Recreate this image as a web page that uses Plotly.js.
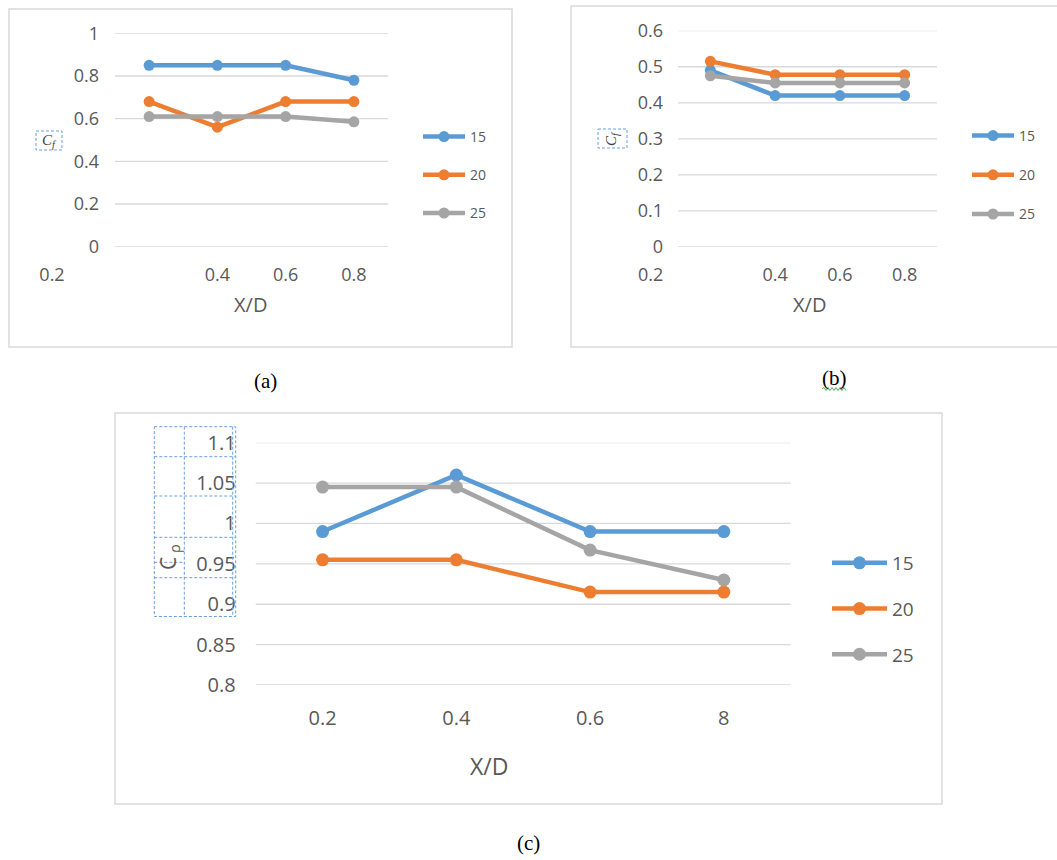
<!DOCTYPE html>
<html>
<head>
<meta charset="utf-8">
<script src="https://cdn.plot.ly/plotly-3.0.1.min.js"></script>
<style>html,body{margin:0;padding:0;background:#fff;}#chart{width:1057px;height:860px;}</style>
</head>
<body>
<div id="chart"></div>
<script>
// ---------------- DATA ----------------
const xLabelsAB = ["0.2", "0.4", "0.6", "0.8"];
const xLabelsC  = ["0.2", "0.4", "0.6", "8"];
const seriesNames = ["15", "20", "25"];

const a15 = [0.85, 0.85, 0.85, 0.78];
const a20 = [0.68, 0.56, 0.68, 0.68];
const a25 = [0.61, 0.61, 0.61, 0.585];

const b15 = [0.49, 0.42, 0.42, 0.42];
const b20 = [0.515, 0.478, 0.478, 0.478];
const b25 = [0.475, 0.455, 0.455, 0.455];

const c15 = [0.99, 1.06, 0.99, 0.99];
const c20 = [0.955, 0.955, 0.915, 0.915];
const c25 = [1.045, 1.045, 0.967, 0.93];

const yTicksA = [0, 0.2, 0.4, 0.6, 0.8, 1];
const yTicksB = [0, 0.1, 0.2, 0.3, 0.4, 0.5, 0.6];
const yTicksC = [0.8, 0.85, 0.9, 0.95, 1, 1.05, 1.1];

// ---------------- LAYOUT HELPERS ----------------
const W = 1057, H = 860;
const px = x => x / W;
const py = y => 1 - y / H;
const colors = ["#5B9BD5", "#ED7D31", "#A5A5A5"];
const FONT = "Open Sans, Noto Sans, sans-serif";
const SERIF = "Liberation Serif, Times New Roman, serif";
const TXT = "#595959";
const GRID = "#d9d9d9";

const panels = [
  {key: "", labels: xLabelsAB, series: [a15, a20, a25], yTicks: yTicksA, yRange: [0, 1],
   gridL: 115, gridR: 388, xL: 30, firstTickPx: 52, yTop: 33.3, yBot: 246.7,
   tickSize: 18, lineW: 4.5, mSize: 11, standX: 15, standY: 16, legend: "legend"},
  {key: "2", labels: xLabelsAB, series: [b15, b20, b25], yTicks: yTicksB, yRange: [0, 0.6],
   gridL: 678, gridR: 937, xL: 620, firstTickPx: 650.7, yTop: 30.7, yBot: 247,
   tickSize: 18, lineW: 4.5, mSize: 11, standX: 15, standY: 15, legend: "legend2"},
  {key: "3", labels: xLabelsC, series: [c15, c20, c25], yTicks: yTicksC, yRange: [0.8, 1.1],
   gridL: 255.7, gridR: 790.7, xL: 255.7, firstTickPx: null, yTop: 442.7, yBot: 685,
   tickSize: 20, lineW: 4.5, mSize: 13, standX: 19, standY: 20, legend: "legend3"}
];

const traces = [];
const layout = {
  width: W, height: H,
  margin: {l: 0, r: 0, t: 0, b: 0},
  paper_bgcolor: "#ffffff", plot_bgcolor: "rgba(0,0,0,0)",
  showlegend: true,
  shapes: [], annotations: [],
  font: {family: FONT, color: TXT, size: 14}
};

panels.forEach(p => {
  const xs = p.labels.map((_, i) => i + 1);
  const spacing = (p.gridR - p.gridL) / p.labels.length;
  const r0 = 0.5 - (p.gridL - p.xL) / spacing;
  const tickvals = xs.slice();
  if (p.firstTickPx !== null) tickvals[0] = 0.5 + (p.firstTickPx - p.gridL) / spacing;

  p.series.forEach((vals, si) => {
    traces.push({
      type: "scatter", mode: "lines+markers",
      x: xs, y: vals, name: seriesNames[si],
      xaxis: "x" + p.key, yaxis: "y" + p.key,
      line: {color: colors[si], width: p.lineW},
      marker: {color: colors[si], size: p.mSize},
      legend: p.legend, legendgroup: p.legend + "_" + si,
      cliponaxis: false, hoverinfo: "skip"
    });
  });

  layout["xaxis" + p.key] = {
    domain: [px(p.xL), px(p.gridR)], range: [r0, 0.5 + p.labels.length],
    anchor: "y" + p.key, tickmode: "array", tickvals: tickvals, ticktext: p.labels,
    showgrid: false, zeroline: false, showline: false, ticks: "",
    ticklabelstandoff: p.standX,
    tickfont: {family: FONT, size: p.tickSize, color: TXT}, fixedrange: true
  };
  layout["yaxis" + p.key] = {
    domain: [py(p.yBot), py(p.yTop)], range: p.yRange,
    anchor: "free", position: px(p.gridL),
    tickmode: "array", tickvals: p.yTicks, ticktext: p.yTicks.map(v => String(v)),
    showgrid: false, zeroline: false, showline: false, ticks: "",
    ticklabelstandoff: p.standY,
    tickfont: {family: FONT, size: p.tickSize, color: TXT}, fixedrange: true
  };
  p.yTicks.forEach(v => {
    layout.shapes.push({type: "line", xref: "paper", yref: "y" + p.key,
      x0: px(p.gridL), x1: px(p.gridR), y0: v, y1: v,
      line: {color: GRID, width: 1.3}, layer: "below"});
  });
});

// legends
const legBase = {bgcolor: "rgba(0,0,0,0)", borderwidth: 0, xanchor: "left", yanchor: "top",
  traceorder: "grouped", itemclick: false, itemdoubleclick: false};
layout.legend  = Object.assign({}, legBase, {x: px(418), y: py(121), tracegroupgap: 17,
  itemwidth: 42, font: {family: FONT, size: 14, color: TXT}});
layout.legend2 = Object.assign({}, legBase, {x: px(967), y: py(120), tracegroupgap: 18,
  itemwidth: 42, font: {family: FONT, size: 14, color: TXT}});
layout.legend3 = Object.assign({}, legBase, {x: px(827), y: py(544), tracegroupgap: 18,
  itemwidth: 55, font: {family: FONT, size: 19, color: TXT}});

// panel borders
[[9, 9, 512, 347], [571, 6, 1062, 347], [115, 413, 942, 804]].forEach(b => {
  layout.shapes.push({type: "rect", xref: "paper", yref: "paper",
    x0: px(b[0]), x1: px(b[2]), y0: py(b[1]), y1: py(b[3]),
    line: {color: "#d9d9d9", width: 1.5}, layer: "below"});
});

// dashed boxes (axis title placeholders)
const dashLine = {color: "#6a9fe0", width: 1, dash: "3px,2px"};
function dashRect(x0, y0, x1, y1) {
  layout.shapes.push({type: "rect", xref: "paper", yref: "paper",
    x0: px(x0), x1: px(x1), y0: py(y0), y1: py(y1), line: dashLine});
}
function dashSeg(x0, y0, x1, y1) {
  layout.shapes.push({type: "line", xref: "paper", yref: "paper",
    x0: px(x0), x1: px(x1), y0: py(y0), y1: py(y1), line: dashLine});
}
dashRect(36, 131, 62, 150);
dashRect(598, 129, 627, 148);
dashRect(154.3, 426.7, 235.7, 616.5);
dashSeg(184.3, 426.7, 184.3, 616.5);
dashSeg(232.7, 426.7, 232.7, 616.5);
[456.7, 496, 537.3, 577.7].forEach(y => dashSeg(154.3, y, 235.7, y));
dashSeg(154.3, 562.3, 184.3, 562.3);

// green wavy underline under (b)
(function () {
  let d = "M" + px(822) + "," + py(389);
  for (let i = 1; i <= 12; i++) {
    d += " L" + px(822 + i * 2) + "," + py(389 + (i % 2 ? -1.5 : 1.5));
  }
  layout.shapes.push({type: "path", xref: "paper", yref: "paper", path: d,
    line: {color: "#5aa55a", width: 1}});
})();

function ann(text, x, y, font, extra) {
  layout.annotations.push(Object.assign({text: text, x: px(x), y: py(y), xref: "paper", yref: "paper",
    showarrow: false, xanchor: "center", yanchor: "middle", font: font}, extra || {}));
}
const fTitle = {family: FONT, size: 20, color: TXT};
ann("X/D", 250.7, 305, fTitle);
ann("X/D", 809, 305, fTitle);
ann("X/D", 489, 766, {family: FONT, size: 23, color: TXT});
const fCf = {family: SERIF, size: 15, color: "#404040"};
ann("<i>C<sub>f</sub></i>", 49, 140.5, fCf);
ann("<i>C<sub>f</sub></i>", 612.5, 138.5, fCf, {textangle: -90});
ann("C<sub> ρ</sub>", 169, 557, {family: FONT, size: 21, color: TXT}, {textangle: -90});
const fCap = {family: SERIF, size: 21, color: "#000000"};
ann("(a)", 265, 381, fCap);
ann("(b)", 834, 378, fCap);
ann("(c)", 528, 843, fCap);

Plotly.newPlot("chart", traces, layout, {displayModeBar: false, staticPlot: true}).then(gd => {
  // drop the empty, unused axis-title placeholders Plotly creates
  gd.querySelectorAll("text.xtitle, text.ytitle, text.x2title, text.y2title, text.x3title, text.y3title, text.legendtitletext")
    .forEach(t => { if (!t.textContent.trim()) t.remove(); });
});
</script>
</body>
</html>
